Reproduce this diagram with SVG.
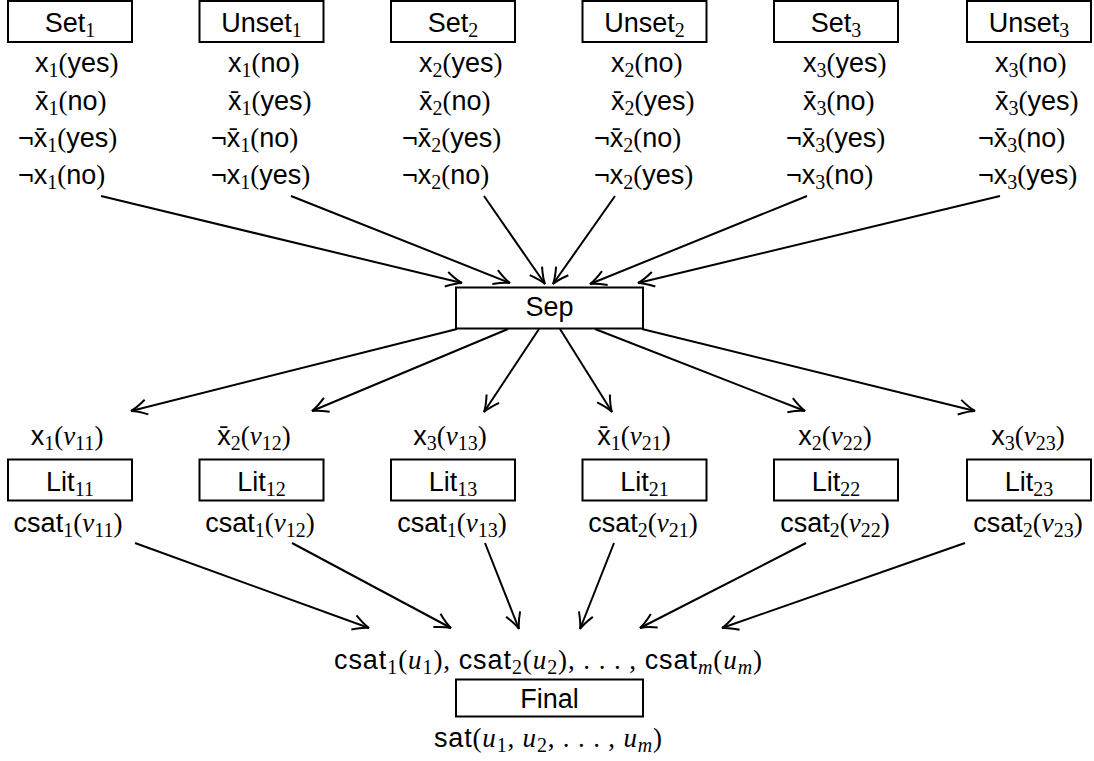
<svg xmlns="http://www.w3.org/2000/svg" width="1094" height="761" viewBox="0 0 1094 761">
<style>
text{font-family:"Liberation Sans",Arial,sans-serif;font-size:27px;fill:#000}
.c{text-anchor:middle}
.r{font-family:"Liberation Serif","Times New Roman",serif}
.i{font-family:"Liberation Serif","Times New Roman",serif;font-style:italic}
.s{font-family:"Liberation Serif","Times New Roman",serif;font-size:20px}
.si{font-family:"Liberation Serif","Times New Roman",serif;font-style:italic;font-size:20px}
rect{fill:#fff;stroke:#000;stroke-width:2}
.e line{stroke:#000;stroke-width:2;marker-end:url(#ah)}
</style>
<defs>
<marker id="ah" markerUnits="userSpaceOnUse" viewBox="-17 -9 19 18" refX="0" refY="0" markerWidth="19" markerHeight="18" orient="auto">
<path d="M-16,-7.5 Q-6,-1.5 0,0 Q-6,1.5 -16,7.5" fill="none" stroke="#000" stroke-width="2"/>
</marker>
</defs>

<g id="set1"><rect x="8" y="1" width="124" height="41"/><text class="c" x="70" y="32">Set<tspan class="s" dy="5">1</tspan></text>
<text x="35" y="72">x<tspan class="s" dy="5">1</tspan><tspan class="r" dy="-5">(</tspan>yes<tspan class="r">)</tspan></text>
<text x="35" y="110">x&#x304;<tspan class="s" dy="5">1</tspan><tspan class="r" dy="-5">(</tspan>no<tspan class="r">)</tspan></text>
<text x="18" y="147">¬x&#x304;<tspan class="s" dy="5">1</tspan><tspan class="r" dy="-5">(</tspan>yes<tspan class="r">)</tspan></text>
<text x="18" y="184">¬x<tspan class="s" dy="5">1</tspan><tspan class="r" dy="-5">(</tspan>no<tspan class="r">)</tspan></text></g>

<g id="unset1"><rect x="199.5" y="1" width="124" height="41"/><text class="c" x="261.5" y="32">Unset<tspan class="s" dy="5">1</tspan></text>
<text x="228" y="72">x<tspan class="s" dy="5">1</tspan><tspan class="r" dy="-5">(</tspan>no<tspan class="r">)</tspan></text>
<text x="228" y="110">x&#x304;<tspan class="s" dy="5">1</tspan><tspan class="r" dy="-5">(</tspan>yes<tspan class="r">)</tspan></text>
<text x="211" y="147">¬x&#x304;<tspan class="s" dy="5">1</tspan><tspan class="r" dy="-5">(</tspan>no<tspan class="r">)</tspan></text>
<text x="211" y="184">¬x<tspan class="s" dy="5">1</tspan><tspan class="r" dy="-5">(</tspan>yes<tspan class="r">)</tspan></text></g>

<g id="set2"><rect x="391" y="1" width="124" height="41"/><text class="c" x="453" y="32">Set<tspan class="s" dy="5">2</tspan></text>
<text x="419" y="72">x<tspan class="s" dy="5">2</tspan><tspan class="r" dy="-5">(</tspan>yes<tspan class="r">)</tspan></text>
<text x="419" y="110">x&#x304;<tspan class="s" dy="5">2</tspan><tspan class="r" dy="-5">(</tspan>no<tspan class="r">)</tspan></text>
<text x="402" y="147">¬x&#x304;<tspan class="s" dy="5">2</tspan><tspan class="r" dy="-5">(</tspan>yes<tspan class="r">)</tspan></text>
<text x="402" y="184">¬x<tspan class="s" dy="5">2</tspan><tspan class="r" dy="-5">(</tspan>no<tspan class="r">)</tspan></text></g>

<g id="unset2"><rect x="582.5" y="1" width="124" height="41"/><text class="c" x="644.5" y="32">Unset<tspan class="s" dy="5">2</tspan></text>
<text x="611" y="72">x<tspan class="s" dy="5">2</tspan><tspan class="r" dy="-5">(</tspan>no<tspan class="r">)</tspan></text>
<text x="611" y="110">x&#x304;<tspan class="s" dy="5">2</tspan><tspan class="r" dy="-5">(</tspan>yes<tspan class="r">)</tspan></text>
<text x="594" y="147">¬x&#x304;<tspan class="s" dy="5">2</tspan><tspan class="r" dy="-5">(</tspan>no<tspan class="r">)</tspan></text>
<text x="594" y="184">¬x<tspan class="s" dy="5">2</tspan><tspan class="r" dy="-5">(</tspan>yes<tspan class="r">)</tspan></text></g>

<g id="set3"><rect x="774" y="1" width="124" height="41"/><text class="c" x="836" y="32">Set<tspan class="s" dy="5">3</tspan></text>
<text x="803" y="72">x<tspan class="s" dy="5">3</tspan><tspan class="r" dy="-5">(</tspan>yes<tspan class="r">)</tspan></text>
<text x="803" y="110">x&#x304;<tspan class="s" dy="5">3</tspan><tspan class="r" dy="-5">(</tspan>no<tspan class="r">)</tspan></text>
<text x="786" y="147">¬x&#x304;<tspan class="s" dy="5">3</tspan><tspan class="r" dy="-5">(</tspan>yes<tspan class="r">)</tspan></text>
<text x="786" y="184">¬x<tspan class="s" dy="5">3</tspan><tspan class="r" dy="-5">(</tspan>no<tspan class="r">)</tspan></text></g>

<g id="unset3"><rect x="967" y="1" width="124" height="41"/><text class="c" x="1029" y="32">Unset<tspan class="s" dy="5">3</tspan></text>
<text x="995" y="72">x<tspan class="s" dy="5">3</tspan><tspan class="r" dy="-5">(</tspan>no<tspan class="r">)</tspan></text>
<text x="995" y="110">x&#x304;<tspan class="s" dy="5">3</tspan><tspan class="r" dy="-5">(</tspan>yes<tspan class="r">)</tspan></text>
<text x="978" y="147">¬x&#x304;<tspan class="s" dy="5">3</tspan><tspan class="r" dy="-5">(</tspan>no<tspan class="r">)</tspan></text>
<text x="978" y="184">¬x<tspan class="s" dy="5">3</tspan><tspan class="r" dy="-5">(</tspan>yes<tspan class="r">)</tspan></text></g>

<g id="sep"><rect x="456" y="287.5" width="187" height="41"/><text class="c" x="549.5" y="316">Sep</text></g>

<g id="lit11"><text class="c" x="67" y="445">x<tspan class="s" dy="5">1</tspan><tspan class="r" dy="-5">(</tspan><tspan class="i">v</tspan><tspan class="s" dy="5">11</tspan><tspan class="r" dy="-5">)</tspan></text>
<rect x="8" y="459.5" width="124" height="41"/><text class="c" x="70" y="491">Lit<tspan class="s" dy="5">11</tspan></text>
<text class="c" x="68" y="532">csat<tspan class="s" dy="5">1</tspan><tspan class="r" dy="-5">(</tspan><tspan class="i">v</tspan><tspan class="s" dy="5">11</tspan><tspan class="r" dy="-5">)</tspan></text></g>

<g id="lit12"><text class="c" x="254" y="445">x&#x304;<tspan class="s" dy="5">2</tspan><tspan class="r" dy="-5">(</tspan><tspan class="i">v</tspan><tspan class="s" dy="5">12</tspan><tspan class="r" dy="-5">)</tspan></text>
<rect x="199.5" y="459.5" width="124" height="41"/><text class="c" x="261.5" y="491">Lit<tspan class="s" dy="5">12</tspan></text>
<text class="c" x="260" y="532">csat<tspan class="s" dy="5">1</tspan><tspan class="r" dy="-5">(</tspan><tspan class="i">v</tspan><tspan class="s" dy="5">12</tspan><tspan class="r" dy="-5">)</tspan></text></g>

<g id="lit13"><text class="c" x="450" y="445">x<tspan class="s" dy="5">3</tspan><tspan class="r" dy="-5">(</tspan><tspan class="i">v</tspan><tspan class="s" dy="5">13</tspan><tspan class="r" dy="-5">)</tspan></text>
<rect x="391" y="459.5" width="124" height="41"/><text class="c" x="453" y="491">Lit<tspan class="s" dy="5">13</tspan></text>
<text class="c" x="452" y="532">csat<tspan class="s" dy="5">1</tspan><tspan class="r" dy="-5">(</tspan><tspan class="i">v</tspan><tspan class="s" dy="5">13</tspan><tspan class="r" dy="-5">)</tspan></text></g>

<g id="lit21"><text class="c" x="634" y="445">x&#x304;<tspan class="s" dy="5">1</tspan><tspan class="r" dy="-5">(</tspan><tspan class="i">v</tspan><tspan class="s" dy="5">21</tspan><tspan class="r" dy="-5">)</tspan></text>
<rect x="582.5" y="459.5" width="124" height="41"/><text class="c" x="644.5" y="491">Lit<tspan class="s" dy="5">21</tspan></text>
<text class="c" x="643" y="532">csat<tspan class="s" dy="5">2</tspan><tspan class="r" dy="-5">(</tspan><tspan class="i">v</tspan><tspan class="s" dy="5">21</tspan><tspan class="r" dy="-5">)</tspan></text></g>

<g id="lit22"><text class="c" x="835" y="445">x<tspan class="s" dy="5">2</tspan><tspan class="r" dy="-5">(</tspan><tspan class="i">v</tspan><tspan class="s" dy="5">22</tspan><tspan class="r" dy="-5">)</tspan></text>
<rect x="774" y="459.5" width="124" height="41"/><text class="c" x="836" y="491">Lit<tspan class="s" dy="5">22</tspan></text>
<text class="c" x="835" y="532">csat<tspan class="s" dy="5">2</tspan><tspan class="r" dy="-5">(</tspan><tspan class="i">v</tspan><tspan class="s" dy="5">22</tspan><tspan class="r" dy="-5">)</tspan></text></g>

<g id="lit23"><text class="c" x="1028" y="445">x<tspan class="s" dy="5">3</tspan><tspan class="r" dy="-5">(</tspan><tspan class="i">v</tspan><tspan class="s" dy="5">23</tspan><tspan class="r" dy="-5">)</tspan></text>
<rect x="967" y="459.5" width="124" height="41"/><text class="c" x="1029" y="491">Lit<tspan class="s" dy="5">23</tspan></text>
<text class="c" x="1028" y="532">csat<tspan class="s" dy="5">2</tspan><tspan class="r" dy="-5">(</tspan><tspan class="i">v</tspan><tspan class="s" dy="5">23</tspan><tspan class="r" dy="-5">)</tspan></text></g>

<g id="final"><text class="c" x="548" y="669" textLength="428" lengthAdjust="spacing">csat<tspan class="s" dy="5">1</tspan><tspan class="r" dy="-5">(</tspan><tspan class="i">u</tspan><tspan class="s" dy="5">1</tspan><tspan class="r" dy="-5">), </tspan>csat<tspan class="s" dy="5">2</tspan><tspan class="r" dy="-5">(</tspan><tspan class="i">u</tspan><tspan class="s" dy="5">2</tspan><tspan class="r" dy="-5">), . . . , </tspan>csat<tspan class="si" dy="5">m</tspan><tspan class="r" dy="-5">(</tspan><tspan class="i">u</tspan><tspan class="si" dy="5">m</tspan><tspan class="r" dy="-5">)</tspan></text>
<rect x="456" y="679.5" width="187" height="37"/><text class="c" x="549.5" y="708">Final</text>
<text class="c" x="548" y="747" textLength="228" lengthAdjust="spacing">sat<tspan class="r">(</tspan><tspan class="i">u</tspan><tspan class="s" dy="5">1</tspan><tspan class="r" dy="-5">, </tspan><tspan class="i">u</tspan><tspan class="s" dy="5">2</tspan><tspan class="r" dy="-5">, . . . , </tspan><tspan class="i">u</tspan><tspan class="si" dy="5">m</tspan><tspan class="r" dy="-5">)</tspan></text></g>

<g id="connectors" class="e">
<line x1="101" y1="196" x2="462" y2="283"/>
<line x1="291" y1="196" x2="510" y2="283"/>
<line x1="484" y1="196" x2="545" y2="284"/>
<line x1="615" y1="196" x2="553" y2="284"/>
<line x1="807" y1="196" x2="590" y2="284"/>
<line x1="1000" y1="196" x2="638" y2="283"/>
<line x1="457" y1="329" x2="131" y2="411"/>
<line x1="508" y1="329" x2="312" y2="411"/>
<line x1="539" y1="329" x2="484" y2="412"/>
<line x1="560" y1="329" x2="612" y2="412"/>
<line x1="595" y1="329" x2="805" y2="411"/>
<line x1="642" y1="329" x2="975" y2="411"/>
<line x1="135" y1="543" x2="369" y2="628"/>
<line x1="292" y1="543" x2="451" y2="628"/>
<line x1="485" y1="543" x2="519" y2="629"/>
<line x1="614" y1="543" x2="580" y2="629"/>
<line x1="806" y1="543" x2="640" y2="628"/>
<line x1="965" y1="543" x2="722" y2="628"/>
</g>
</svg>
